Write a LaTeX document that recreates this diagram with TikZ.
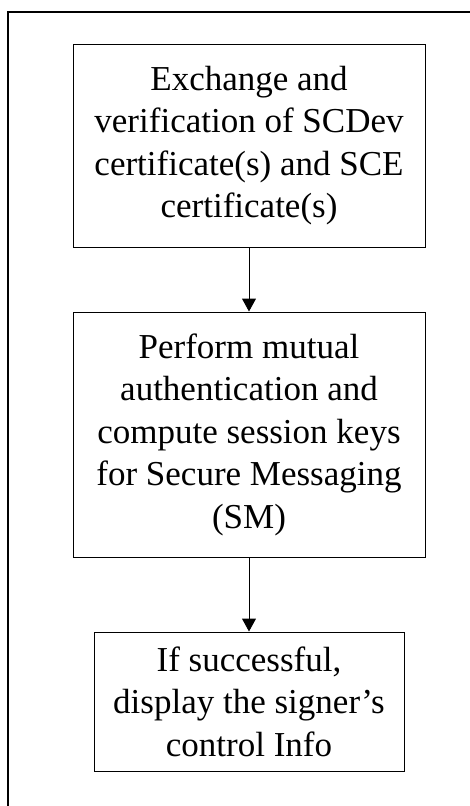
\documentclass[tikz,border=0pt]{standalone}
\usepackage{fontspec}
\setmainfont{Liberation Serif}
\usetikzlibrary{arrows.meta}
\begin{document}
\begin{tikzpicture}[x=1pt,y=-1pt,
  stepbox/.style={draw, line width=1pt, align=center, inner sep=0pt,
    font=\fontsize{35}{42.5}\selectfont},
  flow/.style={draw, line width=1pt, -{Triangle[length=13pt,width=14pt]}},
  frame/.style={draw, line width=1.2pt}]
\useasboundingbox (0,0) rectangle (469,806);
\draw[frame] (8,12) rectangle (490,830);
\node[stepbox, minimum width=352pt, minimum height=203pt] (b1) at (249,145.5)
  {Exchange and\\verification of SCDev\\certificate(s) and SCE\\certificate(s)};
\node[stepbox, minimum width=352pt, minimum height=245pt] (b2) at (249,434.5)
  {Perform mutual\\authentication and\\compute session keys\\for Secure Messaging\\(SM)};
\node[stepbox, minimum width=310pt, minimum height=139pt] (b3) at (249,701.5)
  {If successful,\\display the signer’s\\control Info};
\draw[flow] (b1) -- (b2);
\draw[flow] (b2) -- (b3);
\end{tikzpicture}
\end{document}
